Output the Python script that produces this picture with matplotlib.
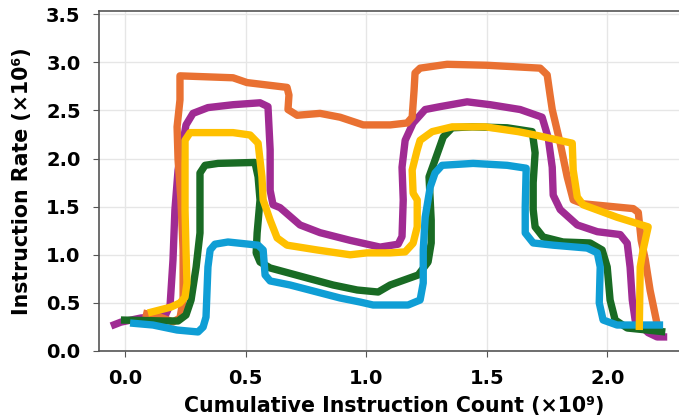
import matplotlib
matplotlib.use('Agg')
import matplotlib.pyplot as plt

# trajectories: (instruction count x1e9, rate x1e6)
orange_x = [0.075, 0.145, 0.199, 0.228, 0.241, 0.241, 0.232, 0.220, 0.216, 0.228, 0.228, 0.448, 0.506,
            0.672, 0.680, 0.676, 0.714, 0.809, 0.892, 0.988, 1.100, 1.170, 1.191, 1.199, 1.203, 1.224,
            1.336, 1.502, 1.722, 1.751, 1.763, 1.772, 1.805, 1.834, 1.859, 1.900, 2.108, 2.129, 2.141,
            2.158, 2.178, 2.212]
orange_y = [0.395, 0.353, 0.302, 0.343, 0.530, 1.05, 1.57, 1.99, 2.33, 2.61, 2.86, 2.84, 2.79,
            2.74, 2.66, 2.51, 2.45, 2.47, 2.43, 2.35, 2.35, 2.37, 2.43, 2.71, 2.89, 2.94,
            2.98, 2.97, 2.94, 2.87, 2.66, 2.51, 2.16, 1.81, 1.57, 1.53, 1.48, 1.44, 1.15,
            0.95, 0.63, 0.22]

purple_x = [-0.058, -0.017, 0.066, 0.166, 0.187, 0.199, 0.207, 0.220, 0.253, 0.282, 0.344, 0.448, 0.560,
            0.593, 0.602, 0.602, 0.614, 0.643, 0.726, 0.809, 0.934, 1.058, 1.133, 1.149, 1.154, 1.149,
            1.162, 1.195, 1.245, 1.307, 1.419, 1.515, 1.639, 1.730, 1.755, 1.772, 1.776, 1.805, 1.876,
            1.959, 2.054, 2.083, 2.095, 2.104, 2.116, 2.170, 2.207, 2.249]
purple_y = [0.26, 0.30, 0.343, 0.364, 0.478, 0.946, 1.466, 1.88, 2.35, 2.47, 2.53, 2.56, 2.58,
            2.54, 2.09, 1.67, 1.52, 1.49, 1.31, 1.23, 1.15, 1.08, 1.11, 1.19, 1.57, 1.91,
            2.19, 2.37, 2.51, 2.54, 2.59, 2.56, 2.51, 2.43, 2.22, 1.91, 1.62, 1.47, 1.31,
            1.24, 1.21, 1.12, 0.87, 0.53, 0.32, 0.19, 0.146, 0.146]

green_x = [-0.017, 0.166, 0.220, 0.253, 0.274, 0.295, 0.311, 0.311, 0.332, 0.386, 0.539, 0.552, 0.560,
           0.548, 0.544, 0.560, 0.602, 0.755, 0.863, 0.963, 1.050, 1.100, 1.216, 1.257, 1.270, 1.270,
           1.261, 1.286, 1.320, 1.357, 1.440, 1.585, 1.689, 1.701, 1.693, 1.693, 1.701, 1.734, 1.817,
           1.929, 1.979, 2.000, 2.012, 2.033, 2.083, 2.166, 2.241]
green_y = [0.322, 0.312, 0.312, 0.374, 0.53, 0.873, 1.227, 1.85, 1.93, 1.95, 1.96, 1.81, 1.57,
           1.227, 1.02, 0.925, 0.863, 0.759, 0.686, 0.634, 0.613, 0.686, 0.79, 0.925, 1.123, 1.36,
           1.81, 1.985, 2.225, 2.32, 2.33, 2.32, 2.28, 2.06, 1.75, 1.47, 1.29, 1.185, 1.133,
           1.123, 1.05, 0.873, 0.53, 0.322, 0.239, 0.218, 0.198]

blue_x = [0.021, 0.116, 0.216, 0.303, 0.324, 0.336, 0.344, 0.353, 0.373, 0.427, 0.552, 0.573, 0.581,
          0.602, 0.685, 0.892, 0.975, 1.029, 1.174, 1.224, 1.237, 1.237, 1.245, 1.266, 1.286, 1.315,
          1.444, 1.585, 1.664, 1.660, 1.660, 1.693, 1.776, 1.917, 1.959, 1.971, 1.967, 1.983, 2.041,
          2.232]
blue_y = [0.291, 0.27, 0.218, 0.198, 0.249, 0.353, 0.873, 1.05, 1.11, 1.133, 1.10, 1.05, 0.79,
          0.728, 0.686, 0.551, 0.509, 0.478, 0.478, 0.53, 0.707, 1.05, 1.39, 1.705, 1.85, 1.93,
          1.95, 1.93, 1.90, 1.50, 1.227, 1.123, 1.10, 1.07, 1.02, 0.873, 0.50, 0.322, 0.27,
          0.27]

yellow_x = [0.095, 0.191, 0.228, 0.249, 0.257, 0.253, 0.249, 0.249, 0.270, 0.448, 0.519, 0.552, 0.568,
            0.573, 0.602, 0.631, 0.672, 0.797, 0.934, 1.004, 1.100, 1.162, 1.195, 1.212, 1.212, 1.195,
            1.191, 1.212, 1.224, 1.274, 1.357, 1.494, 1.631, 1.701, 1.855, 1.859, 1.876, 1.900, 2.041,
            2.170, 2.149, 2.137, 2.133]
yellow_y = [0.395, 0.457, 0.50, 0.561, 0.707, 1.05, 1.466, 2.19, 2.27, 2.27, 2.245, 2.16, 1.81,
            1.57, 1.36, 1.175, 1.10, 1.05, 1.0, 1.02, 1.02, 1.03, 1.12, 1.29, 1.57, 1.64,
            1.88, 2.09, 2.19, 2.28, 2.33, 2.33, 2.28, 2.245, 2.16, 1.88, 1.60, 1.52, 1.39,
            1.29, 1.05, 0.873, 0.218]

series = [
    (purple_x, purple_y, '#A02B93'),
    (orange_x, orange_y, '#E97132'),
    (green_x, green_y, '#196B24'),
    (blue_x, blue_y, '#0F9ED5'),
    (yellow_x, yellow_y, '#FFC000'),
]

fig = plt.figure(figsize=(6.79, 4.20), dpi=100)
ax = fig.add_axes([0.1454, 0.1643, 0.871, 0.8095])

for x, y, c in series:
    ax.plot(x, y, color=c, linewidth=5.3, solid_capstyle='butt', solid_joinstyle='round')

ax.set_xlim(-0.109, 2.344)
ax.set_ylim(0, 3.534)
ax.set_xticks([0.0, 0.5, 1.0, 1.5, 2.0])
ax.set_yticks([0.0, 0.5, 1.0, 1.5, 2.0, 2.5, 3.0, 3.5])
ax.grid(True, color='#e6e6e6', linewidth=1)
ax.set_axisbelow(True)

for s in ax.spines.values():
    s.set_color('#555555')
    s.set_linewidth(1.2)

ax.tick_params(colors='#555555', labelcolor='black', labelsize=14, length=4, pad=9)
for lbl in ax.get_xticklabels() + ax.get_yticklabels():
    lbl.set_fontweight('bold')

ax.set_xlabel('Cumulative Instruction Count (×10⁹)', fontsize=14.8, fontweight='bold', labelpad=6)
ax.set_ylabel('Instruction Rate (×10⁶)', fontsize=14.8, fontweight='bold', labelpad=10)

fig.savefig('out.png', dpi=100)
